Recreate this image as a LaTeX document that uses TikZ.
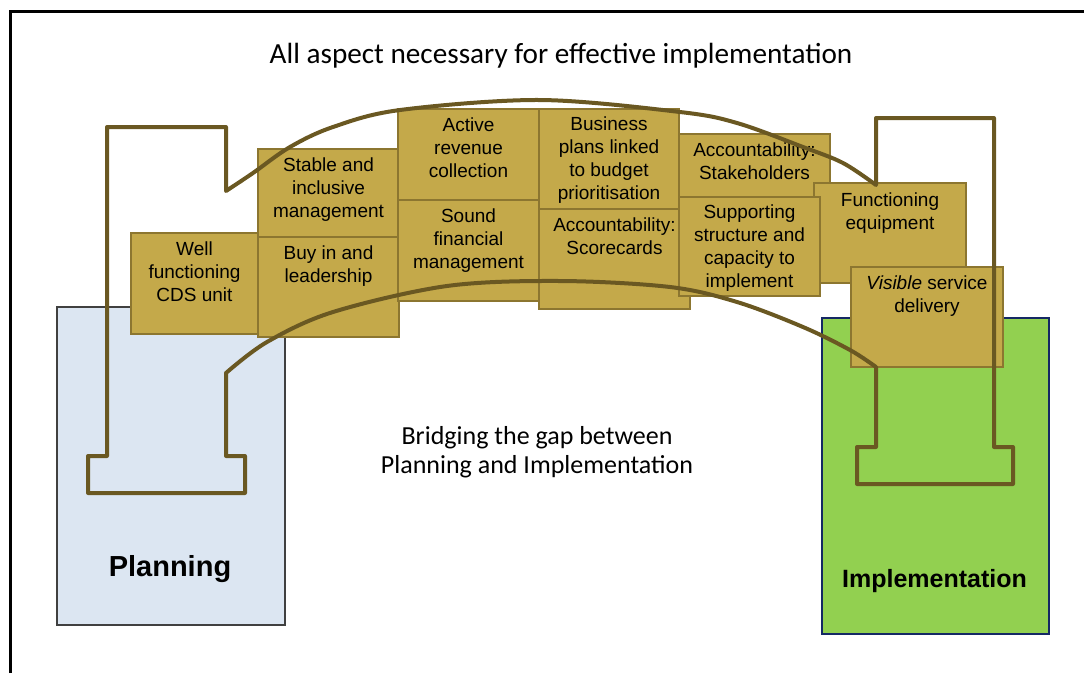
\documentclass[tikz,border=0pt]{standalone}
\usepackage{fontspec}
\setmainfont{Liberation Sans}
\newfontfamily\calfont{Carlito}
\definecolor{goldfill}{RGB}{196,169,74}
\definecolor{goldline}{RGB}{140,118,48}
\definecolor{bridgecol}{RGB}{106,88,34}
\definecolor{planfill}{RGB}{220,230,242}
\definecolor{planline}{RGB}{64,64,64}
\definecolor{implfill}{RGB}{146,208,80}
\definecolor{implline}{RGB}{20,40,100}
\tikzset{
  goldbox/.style={draw=goldline, fill=goldfill, line width=2pt, inner sep=0pt, anchor=north west},
  btxt/.style={anchor=north, inner sep=0pt, align=center, font=\fontsize{19}{23}\selectfont},
  bridge/.style={draw=bridgecol, line width=4pt, line join=round, line cap=round},
  phase/.style={line width=2pt, inner sep=0pt, anchor=north west},
  phasetxt/.style={anchor=base, inner sep=0pt, font=\bfseries},
  caltxt/.style={inner sep=0pt, align=center}
}
\begin{document}
\begin{tikzpicture}[x=1pt,y=-1pt]
\useasboundingbox (0,0) rectangle (1084,673);
% frame
\draw[line width=3.5pt] (10.5,673) -- (10.5,11.3) -- (1084,11.3);
% title
\node[caltxt, anchor=base, font=\calfont\fontsize{29.2}{33}\selectfont] (title) at (561,63) {All aspect necessary for effective implementation};
% planning / implementation
\node[phase, draw=planline, fill=planfill, minimum width=228pt, minimum height=318pt] (plan) at (56,306) {};
\node[phasetxt, font=\bfseries\fontsize{29}{33}\selectfont] (plantxt) at (170,576) {Planning};
\node[phase, draw=implline, fill=implfill, minimum width=227pt, minimum height=316pt] (impl) at (821,317) {};
\node[phasetxt, font=\bfseries\fontsize{25}{29}\selectfont] (impltxt) at (934.5,587) {Implementation};
% gold boxes
\node[goldbox, minimum width=127pt, minimum height=101pt] (cds) at (130,232) {};
\node[btxt] at ([yshift=-10pt]cds.north) {Well\\functioning\\CDS unit};
\node[goldbox, minimum width=141pt, minimum height=88pt] (stable) at (257,148) {};
\node[btxt] at ([yshift=-10pt]stable.north) {Stable and\\inclusive\\management};
\node[goldbox, minimum width=141pt, minimum height=100pt] (buyin) at (257,236) {};
\node[btxt] at ([yshift=-10pt]buyin.north) {Buy in and\\leadership};
\node[goldbox, minimum width=141pt, minimum height=91pt] (active) at (397,108) {};
\node[btxt] at ([yshift=-10pt]active.north) {Active\\revenue\\collection};
\node[goldbox, minimum width=141pt, minimum height=101pt] (sound) at (397,199) {};
\node[btxt] at ([yshift=-10pt]sound.north) {Sound\\financial\\management};
\node[goldbox, minimum width=140pt, minimum height=100pt] (business) at (538,108) {};
\node[btxt] at ([yshift=-9pt]business.north) {Business\\plans linked\\to budget\\prioritisation};
\node[goldbox, minimum width=151pt, minimum height=100pt] (score) at (538,208) {};
\node[btxt] at ([yshift=-10pt]score.north) {Accountability:\\Scorecards};
\node[goldbox, minimum width=151pt, minimum height=63pt] (stake) at (678,133) {};
\node[btxt] at ([yshift=-10pt]stake.north) {Accountability:\\Stakeholders};
\node[goldbox, minimum width=152pt, minimum height=100pt] (func) at (813,182) {};
\node[btxt] at ([yshift=-11pt]func.north) {Functioning\\equipment};
\node[goldbox, minimum width=141pt, minimum height=99pt] (support) at (678,196) {};
\node[btxt] at ([yshift=-9pt]support.north) {Supporting\\structure and\\capacity to\\implement};
\node[goldbox, minimum width=152pt, minimum height=100pt] (visible) at (850,266) {};
\node[btxt] at ([yshift=-10pt]visible.north) {\textit{Visible} service\\delivery};
% bridge outline
\draw[bridge] (226,191) -- (226,127) -- (107,127) -- (107,456) -- (88,456) -- (88,493)
  -- (245,493) -- (245,456) -- (226,456) -- (226,373)
  -- plot[smooth, tension=0.55] coordinates {(226,373) (267,342) (333,312) (447,286) (560,281) (670,287) (737,302) (803,327) (850,350) (876,367)}
  -- (876,447) -- (857,447) -- (857,484) -- (1013,484) -- (1013,447) -- (994,447) -- (994,118) -- (876,118) -- (876,185)
  -- plot[smooth, tension=0.55] coordinates {(876,185) (843,163) (803,147) (737,123) (680,112) (540,100) (400,110) (333,127) (290,147) (253,173) (226,191)}
  -- cycle;
% bridging text
\node[caltxt, anchor=north, font=\calfont\fontsize{26}{29}\selectfont] (gap) at (537,426) {Bridging the gap between\\Planning and Implementation};
\end{tikzpicture}
\end{document}
